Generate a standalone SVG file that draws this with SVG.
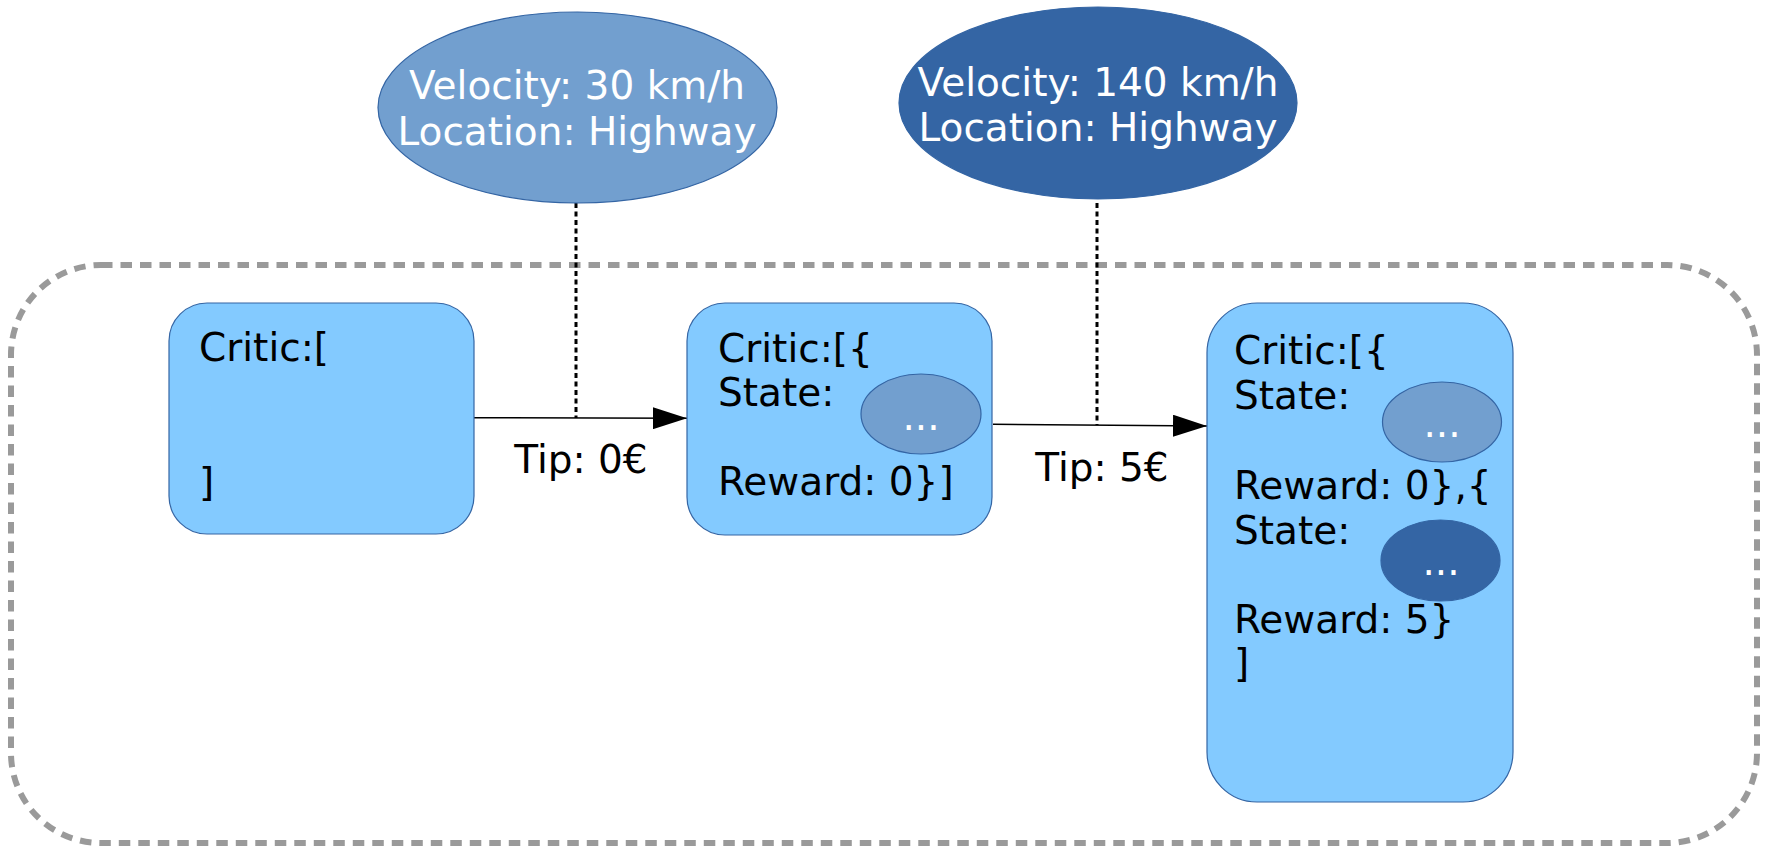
<svg xmlns="http://www.w3.org/2000/svg" width="1767" height="846" viewBox="0 0 1767 846">
  <style>
    text { font-family: "DejaVu Sans", Verdana, sans-serif; font-size: 39px; }
    .dark { fill: #000000; }
    .light { fill: #ffffff; }
    .mid { text-anchor: middle; }
    .box { fill: #83caff; stroke: #3465a4; stroke-width: 1.2; }
    .state-a { fill: #729fcf; stroke: #3465a4; stroke-width: 1.2; }
    .state-b { fill: #3465a4; stroke: #3465a4; stroke-width: 1.2; }
    .flow { fill: none; stroke: #000000; stroke-width: 1.5; }
    .feed { fill: none; stroke: #000000; stroke-width: 3; stroke-dasharray: 5 3.5; }
    .frame { fill: none; stroke: #9a9a9a; stroke-width: 6; stroke-dasharray: 11.5 8; }
  </style>
  <defs>
    <marker id="arrow" viewBox="0 0 34 22" refX="34" refY="11" markerWidth="34" markerHeight="22" markerUnits="userSpaceOnUse" orient="auto">
      <path d="M0,0 L34,11 L0,22 Z" fill="#000000"/>
    </marker>
  </defs>

  <!-- environment frame -->
  <rect id="frame" class="frame" x="11" y="265" width="1746" height="578" rx="90" ry="90"/>

  <!-- connectors -->
  <g id="connectors">
    <line class="feed" x1="576" y1="203" x2="576" y2="418"/>
    <line class="feed" x1="1097" y1="203" x2="1097" y2="425"/>
    <line class="flow" x1="474" y1="417.7" x2="687" y2="418.3" marker-end="url(#arrow)"/>
    <line class="flow" x1="993" y1="424.3" x2="1207" y2="426" marker-end="url(#arrow)"/>
    <text class="dark mid" x="581" y="473">Tip: 0€</text>
    <text class="dark mid" x="1102" y="481">Tip: 5€</text>
  </g>

  <!-- observations -->
  <g id="obs-slow">
    <ellipse class="state-a" cx="577.5" cy="107.5" rx="199.5" ry="95.5"/>
    <text class="light mid" x="577" y="99">Velocity: 30 km/h</text>
    <text class="light mid" x="577" y="145">Location: Highway</text>
  </g>
  <g id="obs-fast">
    <ellipse class="state-b" cx="1098" cy="103" rx="199" ry="96"/>
    <text class="light mid" x="1098" y="96">Velocity: 140 km/h</text>
    <text class="light mid" x="1098" y="141">Location: Highway</text>
  </g>

  <!-- critic memory, step 0 -->
  <g id="critic-0">
    <rect class="box" x="169" y="303" width="305" height="231" rx="38" ry="38"/>
    <text class="dark" x="199" y="361">Critic:[</text>
    <text class="dark" x="199" y="496">]</text>
  </g>

  <!-- critic memory, step 1 -->
  <g id="critic-1">
    <rect class="box" x="687" y="303" width="305" height="232" rx="38" ry="38"/>
    <text class="dark" x="718" y="362">Critic:[{</text>
    <text class="dark" x="718" y="406">State:</text>
    <ellipse class="state-a" cx="921" cy="414" rx="60" ry="40"/>
    <text class="light mid" x="921" y="430">...</text>
    <text class="dark" x="718" y="495">Reward: 0}]</text>
  </g>

  <!-- critic memory, step 2 -->
  <g id="critic-2">
    <rect class="box" x="1207" y="303" width="306" height="499" rx="50" ry="50"/>
    <text class="dark" x="1234" y="364">Critic:[{</text>
    <text class="dark" x="1234" y="409">State:</text>
    <ellipse class="state-a" cx="1442" cy="422" rx="59.5" ry="40"/>
    <text class="light mid" x="1442" y="437">...</text>
    <text class="dark" x="1234" y="499">Reward: 0},{</text>
    <text class="dark" x="1234" y="544">State:</text>
    <ellipse class="state-b" cx="1440.5" cy="560.5" rx="59.5" ry="40.5"/>
    <text class="light mid" x="1441" y="575">...</text>
    <text class="dark" x="1234" y="633">Reward: 5}</text>
    <text class="dark" x="1234" y="677">]</text>
  </g>
</svg>
